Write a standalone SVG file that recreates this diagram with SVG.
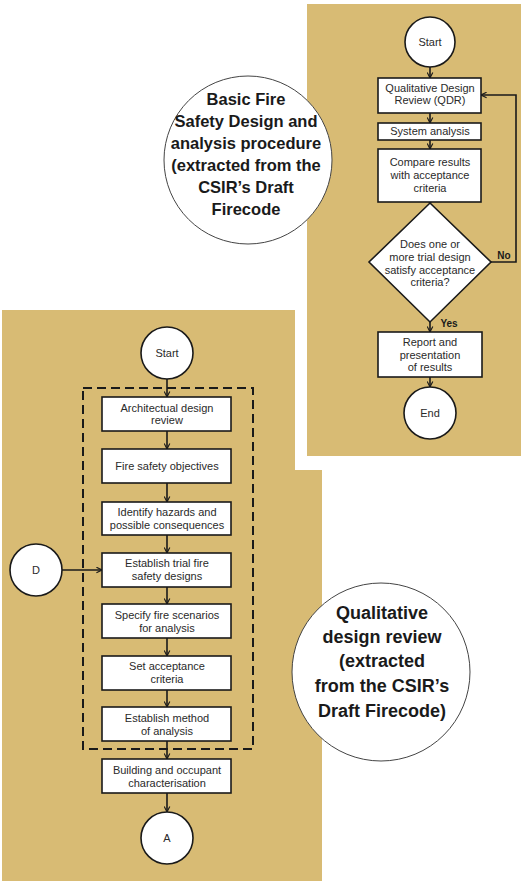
<svg xmlns="http://www.w3.org/2000/svg" width="521" height="881" viewBox="0 0 521 881">
<style>
.panel{fill:#d8bb74}
.box{fill:#fff;stroke:#1a1a1a;stroke-width:1.6}
.term{fill:#fff;stroke:#1a1a1a;stroke-width:1.6}
.t{font-family:"Liberation Sans",Arial,sans-serif;font-size:11px;fill:#2a2a2a;text-anchor:middle}
.tb{font-family:"Liberation Sans",Arial,sans-serif;font-size:10px;font-weight:bold;fill:#1a1a1a;text-anchor:middle}
.title{font-family:"Liberation Sans",Arial,sans-serif;font-size:16.5px;font-weight:bold;fill:#1a1a1a;text-anchor:middle}
.title2{font-family:"Liberation Sans",Arial,sans-serif;font-size:18px;font-weight:bold;fill:#1a1a1a;text-anchor:middle}
.tc{fill:#fff;stroke:#444;stroke-width:1}
.conn{fill:none;stroke:#1a1a1a;stroke-width:1.6}
.dash{fill:none;stroke:#1a1a1a;stroke-width:2;stroke-dasharray:9 5}
</style>
<defs>
<marker id="arr" viewBox="0 0 10 10" refX="9" refY="5" markerWidth="7" markerHeight="7" orient="auto" markerUnits="userSpaceOnUse">
<path d="M1,1 L9,5 L1,9" fill="none" stroke="#1a1a1a" stroke-width="1.6"/>
</marker>
</defs>
<rect width="521" height="881" fill="#fff"/>
<!-- panels -->
<rect class="panel" x="307" y="4" width="214" height="452"/>
<polygon class="panel" points="2,310 295,310 295,470 322,470 322,881 2,881"/>

<!-- title circles -->
<g id="title-top">
<circle class="tc" cx="248" cy="160" r="84"/>
<text class="title" x="246" y="105">Basic Fire</text>
<text class="title" x="246" y="127">Safety Design and</text>
<text class="title" x="246" y="149">analysis procedure</text>
<text class="title" x="246" y="171">(extracted from the</text>
<text class="title" x="246" y="193">CSIR’s Draft</text>
<text class="title" x="246" y="215">Firecode</text>
</g>
<g id="title-bottom">
<circle class="tc" cx="381" cy="672" r="89"/>
<text class="title2" x="382" y="619">Qualitative</text>
<text class="title2" x="382" y="643">design review</text>
<text class="title2" x="382" y="667">(extracted</text>
<text class="title2" x="382" y="692">from the CSIR’s</text>
<text class="title2" x="382" y="717">Draft Firecode)</text>
</g>

<!-- connectors -->
<g id="connectors">
<line class="conn" x1="430" y1="67" x2="430" y2="78" marker-end="url(#arr)"/>
<line class="conn" x1="430" y1="113" x2="430" y2="123" marker-end="url(#arr)"/>
<line class="conn" x1="430" y1="140" x2="430" y2="149" marker-end="url(#arr)"/>
<line class="conn" x1="430" y1="202" x2="430" y2="204" marker-end="url(#arr)"/>
<line class="conn" x1="430" y1="322" x2="430" y2="332" marker-end="url(#arr)"/>
<line class="conn" x1="430" y1="377" x2="430" y2="387" marker-end="url(#arr)"/>
<polyline class="conn" points="491,262 516,262 516,95 481,95" marker-end="url(#arr)"/>
<text class="tb" x="504" y="259">No</text>
<text class="tb" x="449" y="327">Yes</text>

<line class="conn" x1="167" y1="379" x2="167" y2="397" marker-end="url(#arr)"/>
<line class="conn" x1="167" y1="431" x2="167" y2="449" marker-end="url(#arr)"/>
<line class="conn" x1="167" y1="483" x2="167" y2="502" marker-end="url(#arr)"/>
<line class="conn" x1="167" y1="535" x2="167" y2="553" marker-end="url(#arr)"/>
<line class="conn" x1="167" y1="587" x2="167" y2="604" marker-end="url(#arr)"/>
<line class="conn" x1="167" y1="638" x2="167" y2="656" marker-end="url(#arr)"/>
<line class="conn" x1="167" y1="690" x2="167" y2="707" marker-end="url(#arr)"/>
<line class="conn" x1="167" y1="741" x2="167" y2="759" marker-end="url(#arr)"/>
<line class="conn" x1="167" y1="793" x2="167" y2="812" marker-end="url(#arr)"/>
<line class="conn" x1="62" y1="570" x2="102" y2="570" marker-end="url(#arr)"/>
</g>

<!-- top-right flowchart -->
<g id="start1"><circle class="term" cx="430" cy="42" r="25"/><text class="t" x="430" y="46">Start</text></g>
<g id="qdr"><rect class="box" x="378" y="78" width="103" height="35"/><text class="t" x="430" y="92">Qualitative Design</text><text class="t" x="430" y="104">Review (QDR)</text></g>
<g id="sysanalysis"><rect class="box" x="378" y="123" width="103" height="17"/><text class="t" x="430" y="135">System analysis</text></g>
<g id="compare"><rect class="box" x="378" y="149" width="103" height="53"/><text class="t" x="430" y="166">Compare results</text><text class="t" x="430" y="179">with acceptance</text><text class="t" x="430" y="192">criteria</text></g>
<g id="decision"><polygon class="box" points="430,203 491,262 430,322 369,262"/><text class="t" x="430" y="248">Does one or</text><text class="t" x="430" y="261">more trial design</text><text class="t" x="430" y="274">satisfy acceptance</text><text class="t" x="430" y="286">criteria?</text></g>
<g id="report"><rect class="box" x="378" y="332" width="104" height="45"/><text class="t" x="430" y="346">Report and</text><text class="t" x="430" y="359">presentation</text><text class="t" x="430" y="371">of results</text></g>
<g id="end1"><circle class="term" cx="430" cy="413" r="26"/><text class="t" x="430" y="417">End</text></g>

<!-- bottom-left flowchart -->
<g id="qdr-boundary"><rect class="dash" x="83" y="388" width="170" height="361"/></g>
<g id="start2"><circle class="term" cx="167" cy="353" r="26"/><text class="t" x="167" y="357">Start</text></g>
<g id="arch"><rect class="box" x="102" y="397" width="129" height="34"/><text class="t" x="167" y="412">Architectual design</text><text class="t" x="167" y="424">review</text></g>
<g id="fso"><rect class="box" x="102" y="449" width="129" height="34"/><text class="t" x="167" y="470">Fire safety objectives</text></g>
<g id="hazards"><rect class="box" x="102" y="502" width="129" height="33"/><text class="t" x="167" y="516">Identify hazards and</text><text class="t" x="167" y="529">possible consequences</text></g>
<g id="trial"><rect class="box" x="102" y="553" width="129" height="34"/><text class="t" x="167" y="567">Establish trial fire</text><text class="t" x="167" y="580">safety designs</text></g>
<g id="scenarios"><rect class="box" x="102" y="604" width="129" height="34"/><text class="t" x="167" y="619">Specify fire scenarios</text><text class="t" x="167" y="632">for analysis</text></g>
<g id="acceptance"><rect class="box" x="102" y="656" width="129" height="34"/><text class="t" x="167" y="670">Set acceptance</text><text class="t" x="167" y="683">criteria</text></g>
<g id="method"><rect class="box" x="102" y="707" width="129" height="34"/><text class="t" x="167" y="722">Establish method</text><text class="t" x="167" y="735">of analysis</text></g>
<g id="building"><rect class="box" x="102" y="759" width="129" height="34"/><text class="t" x="167" y="774">Building and occupant</text><text class="t" x="167" y="787">characterisation</text></g>
<g id="conn-a"><circle class="term" cx="167" cy="838" r="26"/><text class="t" x="167" y="842">A</text></g>
<g id="conn-d"><circle class="term" cx="36" cy="570" r="26"/><text class="t" x="36" y="574">D</text></g>
</svg>
